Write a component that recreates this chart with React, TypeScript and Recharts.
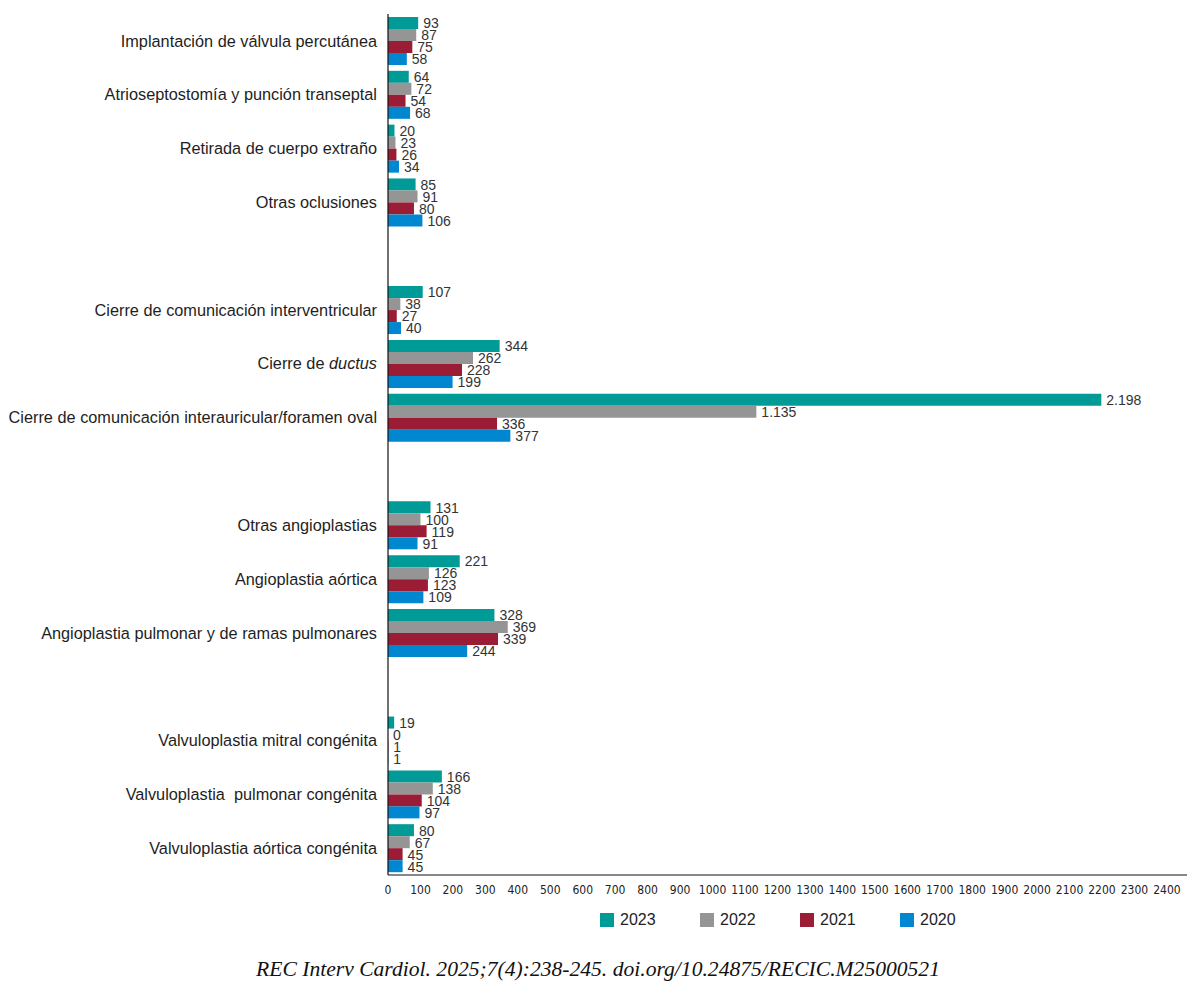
import React from "react";
import { BarChart, Bar, XAxis, YAxis, LabelList } from "recharts";

const categories = [
  "Implantación de válvula percutánea",
  "Atrioseptostomía y punción transeptal",
  "Retirada de cuerpo extraño",
  "Otras oclusiones",
  "",
  "Cierre de comunicación interventricular",
  "Cierre de ductus",
  "Cierre de comunicación interauricular/foramen oval",
  "",
  "Otras angioplastias",
  "Angioplastia aórtica",
  "Angioplastia pulmonar y de ramas pulmonares",
  "",
  "Valvuloplastia mitral congénita",
  "Valvuloplastia  pulmonar congénita",
  "Valvuloplastia aórtica congénita",
];

const italicWords = ["ductus"];

const v2023 = [93, 64, 20, 85, null, 107, 344, 2198, null, 131, 221, 328, null, 19, 166, 80];
const v2022 = [87, 72, 23, 91, null, 38, 262, 1135, null, 100, 126, 369, null, 0, 138, 67];
const v2021 = [75, 54, 26, 80, null, 27, 228, 336, null, 119, 123, 339, null, 1, 104, 45];
const v2020 = [58, 68, 34, 106, null, 40, 199, 377, null, 91, 109, 244, null, 1, 97, 45];

const xTicks = [
  0, 100, 200, 300, 400, 500, 600, 700, 800, 900, 1000, 1100, 1200, 1300, 1400, 1500,
  1600, 1700, 1800, 1900, 2000, 2100, 2200, 2300, 2400,
];

const series = [
  { key: "y2023", name: "2023", color: "#009b97" },
  { key: "y2022", name: "2022", color: "#959595" },
  { key: "y2021", name: "2021", color: "#9b1c35" },
  { key: "y2020", name: "2020", color: "#0087cf" },
];

const data = categories.map((c, i) => ({
  idx: i,
  y2023: v2023[i],
  y2022: v2022[i],
  y2021: v2021[i],
  y2020: v2020[i],
}));

const sans = "'Liberation Sans', Arial, Helvetica, sans-serif";
const narrow = "'Liberation Sans Narrow', 'DejaVu Sans Condensed', 'Liberation Sans', sans-serif";

const fmt = (v: number) => String(v).replace(/\B(?=(\d{3})+(?!\d))/g, ".");

const CategoryTick = (props: any) => {
  const { x, y, payload } = props;
  const label = categories[payload.value] || "";
  const words = label.split(/( +)/);
  return (
    <text
      x={x}
      y={y}
      dy="0.35em"
      textAnchor="end"
      fontFamily={sans}
      fontSize={16.3}
      fill="#1e1e1e"
      style={{ whiteSpace: "pre" }}
    >
      {words.map((w: string, i: number) => (
        <tspan key={i} fontStyle={italicWords.includes(w) ? "italic" : "normal"}>
          {w}
        </tspan>
      ))}
    </text>
  );
};

const ValueLabel = (props: any) => {
  const { x, y, width, height, value } = props;
  if (value === null || value === undefined) return null;
  return (
    <text
      x={x + width + 5}
      y={y + height / 2}
      dy="0.38em"
      fontFamily={sans}
      fontSize={14}
      fill="#333"
    >
      {fmt(value)}
    </text>
  );
};

// zero values still need their "0" label, so give them a hair-thin bar
const zeroSize = (v: any) => (v === 0 ? 0.01 : 0);

export default function App() {
  return (
    <div style={{ position: "absolute", left: 0, top: 0, width: 1196, height: 994, background: "#fff" }}>
      <BarChart
        width={1196}
        height={902}
        data={data}
        layout="vertical"
        margin={{ top: 14, right: 9, left: 0, bottom: 0 }}
        barSize={12}
        barGap={0}
      >
        <XAxis
          type="number"
          domain={[0, 2462]}
          ticks={xTicks}
          interval={0}
          tickLine={false}
          axisLine={{ stroke: "#111", strokeWidth: 1.2 }}
          tick={{ fontFamily: narrow, fontSize: 12, fill: "#222" }}
          tickMargin={4}
          height={27}
        />
        <YAxis
          type="category"
          dataKey="idx"
          width={388}
          tickLine={false}
          tickSize={0}
          tickMargin={11}
          interval={0}
          axisLine={{ stroke: "#111", strokeWidth: 1.2 }}
          tick={<CategoryTick />}
        />
        {series.map((s) => (
          <Bar
            key={s.key}
            dataKey={s.key}
            name={s.name}
            fill={s.color}
            minPointSize={zeroSize}
            isAnimationActive={false}
          >
            <LabelList dataKey={s.key} content={<ValueLabel />} />
          </Bar>
        ))}
      </BarChart>
      <div
        style={{
          position: "absolute",
          top: 911,
          left: 600,
          display: "flex",
          fontFamily: sans,
          fontSize: 16,
          color: "#222",
        }}
      >
        {series.map((s) => (
          <div key={s.key} style={{ display: "flex", alignItems: "center", width: 100 }}>
            <span style={{ display: "inline-block", width: 14, height: 14, background: s.color, marginRight: 6 }} />
            <span>{s.name}</span>
          </div>
        ))}
      </div>
      <div
        style={{
          position: "absolute",
          top: 957,
          left: 0,
          width: 1196,
          textAlign: "center",
          fontFamily: "'Liberation Serif', 'DejaVu Serif', serif",
          fontStyle: "italic",
          fontSize: 21.6,
          color: "#111",
        }}
      >
        REC Interv Cardiol. 2025;7(4):238-245. doi.org/10.24875/RECIC.M25000521
      </div>
    </div>
  );
}
